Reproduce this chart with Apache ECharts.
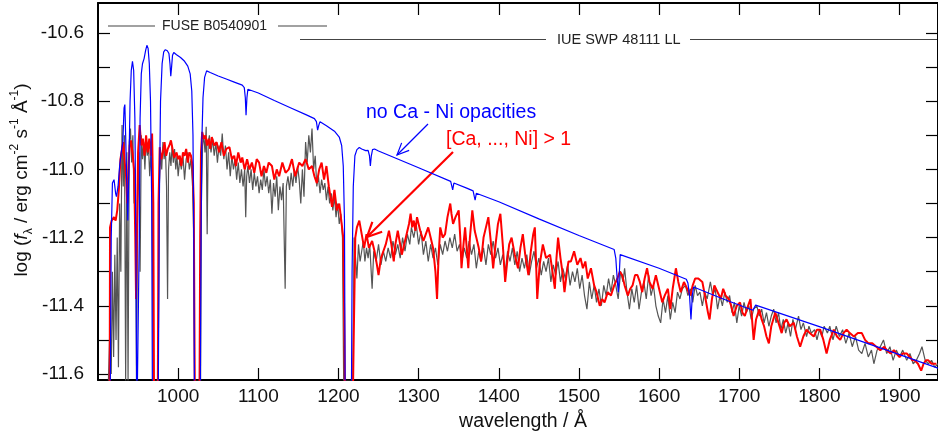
<!DOCTYPE html>
<html>
<head>
<meta charset="utf-8">
<script src="https://cdn.jsdelivr.net/npm/echarts@6/dist/echarts.min.js"></script>
<style>
html,body{margin:0;padding:0;background:#fff;}
#c{width:938px;height:437px;}
</style>
</head>
<body>
<div id="c"></div>
<script>
// ---- axis ticks ----
const xTicks = [1000,1100,1200,1300,1400,1500,1600,1700,1800,1900];
const yTicks = [-11.6,-11.5,-11.4,-11.3,-11.2,-11.1,-11.0,-10.9,-10.8,-10.7,-10.6];
const yLabels = [-11.6,-11.4,-11.2,-11.0,-10.8,-10.6];

// ---- model without Ca-Ni opacities (blue) ----
const blueModel = [[915,-11.75],[916.5,-11.2],[918,-11.04],[920,-11.03],[922,-11.07],[923,-11.08],[925,-11.05],[927,-10.99],[929,-10.95],[931,-10.92],[932.5,-10.82],[933.5,-10.81],[934.5,-10.9],[936,-11.05],[937.2,-11.15],[938.5,-11.0],[940,-10.8],[941.5,-10.71],[943,-10.683],[944.5,-10.71],[946,-10.85],[947.3,-11.2],[948.5,-11.75],[950.5,-11.75],[951.5,-11.2],[952.5,-10.85],[954,-10.72],[955.5,-10.69],[957.5,-10.675],[959.5,-10.65],[961,-10.636],[962.5,-10.645],[964,-10.69],[965.5,-10.8],[967,-11.1],[968,-11.75],[975,-11.75],[976.5,-11.1],[978,-10.8],[980,-10.69],[982,-10.655],[984,-10.649],[986.5,-10.652],[988.5,-10.66],[989.8,-10.69],[990.8,-10.727],[991.8,-10.7],[993,-10.665],[994.5,-10.657],[998,-10.664],[1003,-10.672],[1008,-10.683],[1012,-10.697],[1015,-10.72],[1017,-10.77],[1018.5,-10.9],[1019.5,-11.2],[1020.5,-11.75],[1027.5,-11.75],[1028.5,-11.2],[1029.5,-10.92],[1031,-10.79],[1033,-10.73],[1035.5,-10.711],[1040,-10.716],[1050,-10.726],[1060,-10.735],[1070,-10.744],[1080,-10.753],[1082.5,-10.76],[1083.8,-10.79],[1084.7,-10.841],[1085.8,-10.79],[1087,-10.765],[1100,-10.776],[1120,-10.798],[1140,-10.819],[1160,-10.84],[1170,-10.851],[1172.5,-10.86],[1174,-10.885],[1175.5,-10.87],[1177,-10.86],[1185,-10.872],[1195,-10.888],[1201,-10.905],[1204,-10.93],[1206,-10.99],[1207.5,-11.15],[1208.5,-11.75],[1216,-11.75],[1217,-11.3],[1218.5,-11.05],[1220.5,-10.96],[1223,-10.942],[1226,-10.936],[1229,-10.94],[1231,-10.937],[1234,-10.945],[1237,-10.944],[1238.7,-10.96],[1239.8,-10.99],[1241,-10.96],[1242.5,-10.942],[1245,-10.94],[1250,-10.946],[1300,-10.995],[1340,-11.035],[1341.5,-11.05],[1342.5,-11.06],[1344,-11.04],[1360,-11.055],[1368,-11.063],[1369.5,-11.08],[1370.5,-11.09],[1372,-11.07],[1400,-11.095],[1450,-11.145],[1500,-11.194],[1544,-11.235],[1546,-11.26],[1548,-11.33],[1549.2,-11.36],[1550.5,-11.3],[1551.5,-11.25],[1553,-11.246],[1600,-11.29],[1634,-11.322],[1636,-11.333],[1638,-11.37],[1639.8,-11.44],[1641.5,-11.37],[1643,-11.345],[1680,-11.38],[1717,-11.413],[1719,-11.415],[1720.5,-11.398],[1722,-11.397],[1800,-11.461],[1900,-11.543],[1948,-11.583]];

// ---- model with [Ca..Ni] > 1 (red) ----
const redModel = [[914.5,-11.75],[915,-11.17],[917,-11.15],[920,-11.14],[922,-11.15],[924,-11.12],[926,-11.06],[928,-10.97],[930,-10.94],[931.5,-10.92],[933,-10.97],[935,-11.02],[936.5,-11.1],[938,-11.0],[939.5,-10.93],[941,-10.915],[943,-10.95],[945,-11.0],[946.5,-11.2],[947.5,-11.38],[948.5,-11.2],[950,-10.95],[952,-10.87],[954,-10.93],[956,-10.91],[958,-10.96],[960,-10.9],[962,-10.95],[964,-10.91],[966,-10.96],[967.5,-10.895],[969,-11.1],[970,-11.75],[974.5,-11.75],[975.5,-11.1],[977,-10.935],[979,-10.97],[981,-10.95],[983,-10.92],[985,-10.96],[987,-10.94],[989,-10.93],[991,-10.915],[993,-10.94],[995,-10.965],[998,-10.95],[1000,-10.97],[1002,-10.96],[1004,-10.99],[1006,-10.95],[1008,-10.96],[1010,-10.94],[1012,-10.98],[1014,-10.95],[1016,-10.96],[1018,-10.99],[1019.5,-11.1],[1021,-11.75],[1026.5,-11.75],[1027.5,-11.2],[1028.5,-10.95],[1030,-10.89],[1032,-10.91],[1034,-10.9],[1036,-10.93],[1038,-10.91],[1040,-10.94],[1042,-10.905],[1045,-10.93],[1048,-10.92],[1051,-10.95],[1054,-10.92],[1057,-10.96],[1060,-10.94],[1064,-10.935],[1067,-10.97],[1070,-10.96],[1072,-10.99],[1075,-10.95],[1078,-10.98],[1080,-10.965],[1083,-11.0],[1086,-10.97],[1089,-11.0],[1092,-10.98],[1095,-11.01],[1098,-10.97],[1101,-10.98],[1104,-11.02],[1107,-10.99],[1110,-11.01],[1113,-10.98],[1117,-10.99],[1120,-11.03],[1123,-11.0],[1126,-11.02],[1130,-10.98],[1134,-11.01],[1138,-11.0],[1142,-10.97],[1146,-11.02],[1151,-10.98],[1155,-10.99],[1159,-10.97],[1163,-11.0],[1167,-10.99],[1170,-11.02],[1173,-11.04],[1176,-11.0],[1179,-10.98],[1182,-11.03],[1185,-10.99],[1188,-11.05],[1192,-11.11],[1195,-11.06],[1198,-11.12],[1201,-11.1],[1204,-11.16],[1206,-11.2],[1207.5,-11.5],[1208.5,-11.75],[1217.5,-11.75],[1219,-11.5],[1221,-11.2],[1223,-11.17],[1226,-11.15],[1229,-11.19],[1232,-11.23],[1235,-11.19],[1238,-11.23],[1242,-11.21],[1245,-11.24],[1248,-11.28],[1250,-11.31],[1253,-11.26],[1256,-11.24],[1259,-11.22],[1263,-11.18],[1266,-11.22],[1269,-11.27],[1271,-11.22],[1274,-11.18],[1277,-11.22],[1279,-11.25],[1282,-11.22],[1285,-11.19],[1288,-11.16],[1290,-11.13],[1292,-11.17],[1294,-11.15],[1296,-11.18],[1298,-11.14],[1302,-11.18],[1306,-11.21],[1309,-11.19],[1312,-11.17],[1315,-11.2],[1318,-11.23],[1321,-11.3],[1323,-11.38],[1325,-11.25],[1327,-11.17],[1330,-11.2],[1333,-11.19],[1336,-11.14],[1339.5,-11.1],[1341,-11.13],[1343,-11.16],[1346,-11.14],[1350,-11.12],[1352,-11.2],[1353.5,-11.29],[1356,-11.22],[1358,-11.17],[1360,-11.23],[1362,-11.29],[1364,-11.2],[1367,-11.12],[1370,-11.18],[1372,-11.2],[1375,-11.23],[1378,-11.27],[1381,-11.2],[1384,-11.17],[1387,-11.14],[1390,-11.21],[1393,-11.29],[1396,-11.22],[1399,-11.16],[1402,-11.13],[1405,-11.22],[1408,-11.33],[1411,-11.26],[1413,-11.22],[1416,-11.2],[1420,-11.25],[1424,-11.29],[1427,-11.23],[1430,-11.19],[1433,-11.25],[1437,-11.31],[1440,-11.24],[1443,-11.19],[1445,-11.17],[1446.5,-11.27],[1448,-11.38],[1451,-11.28],[1455,-11.22],[1459,-11.26],[1464,-11.25],[1467,-11.3],[1470,-11.35],[1472,-11.26],[1474,-11.2],[1477,-11.26],[1480,-11.31],[1482,-11.36],[1485,-11.3],[1487,-11.27],[1490,-11.27],[1494,-11.24],[1498,-11.28],[1502,-11.26],[1505,-11.29],[1508,-11.27],[1511,-11.32],[1515,-11.29],[1519,-11.34],[1522,-11.36],[1526,-11.4],[1529,-11.38],[1532,-11.39],[1536,-11.36],[1540,-11.37],[1544,-11.34],[1548,-11.32],[1551,-11.3],[1554,-11.31],[1557,-11.34],[1561,-11.37],[1564,-11.35],[1567,-11.34],[1570,-11.31],[1573,-11.31],[1576,-11.33],[1579,-11.36],[1582,-11.32],[1585,-11.29],[1588,-11.33],[1592,-11.35],[1596,-11.31],[1600,-11.35],[1604,-11.39],[1607,-11.37],[1611,-11.35],[1614,-11.41],[1617,-11.35],[1621,-11.29],[1624,-11.33],[1627,-11.36],[1631,-11.33],[1635,-11.35],[1639,-11.37],[1642,-11.34],[1645,-11.32],[1649,-11.32],[1654,-11.33],[1658,-11.38],[1661,-11.42],[1663,-11.44],[1666,-11.38],[1669,-11.34],[1673,-11.36],[1677,-11.38],[1680,-11.35],[1683,-11.37],[1687,-11.38],[1690,-11.4],[1693,-11.43],[1697,-11.4],[1701,-11.39],[1704,-11.42],[1707,-11.43],[1711,-11.4],[1714,-11.38],[1716,-11.44],[1718,-11.5],[1721,-11.44],[1725,-11.41],[1728,-11.44],[1731,-11.46],[1734,-11.49],[1737,-11.51],[1740,-11.46],[1745,-11.42],[1749,-11.45],[1753,-11.48],[1756,-11.45],[1759,-11.44],[1763,-11.46],[1768,-11.45],[1772,-11.49],[1776,-11.52],[1780,-11.49],[1784,-11.47],[1788,-11.48],[1793,-11.49],[1797,-11.47],[1801,-11.47],[1805,-11.5],[1809,-11.54],[1813,-11.5],[1818,-11.47],[1822,-11.49],[1826,-11.5],[1830,-11.48],[1834,-11.47],[1838,-11.48],[1843,-11.49],[1848,-11.48],[1853,-11.48],[1857,-11.5],[1861,-11.51],[1866,-11.51],[1871,-11.52],[1876,-11.53],[1881,-11.52],[1884,-11.53],[1889,-11.54],[1893,-11.53],[1896,-11.54],[1900,-11.55],[1904,-11.54],[1909,-11.54],[1913,-11.55],[1916,-11.56],[1919,-11.56],[1923,-11.57],[1927,-11.59],[1930,-11.57],[1933,-11.56],[1936,-11.56],[1940,-11.57],[1942,-11.565],[1946,-11.57]];

// ---- observation FUSE + IUE (gray) ----
const observed = [[913,-11.62],[915,-11.45],[916.5,-11.6],[918,-11.3],[919.5,-11.55],[921,-11.25],[922.5,-11.5],[924,-11.2],[925.5,-11.58],[927,-11.1],[928.5,-11.3],[930,-10.87],[931.5,-11.05],[933,-10.9],[934.5,-11.62],[936,-10.95],[937.5,-11.62],[939,-10.92],[940.5,-10.88],[942,-10.98],[943.5,-10.9],[945,-11.1],[946.5,-11.0],[948,-11.62],[949.5,-11.1],[951,-10.95],[952.5,-11.3],[954,-10.9],[955.5,-10.97],[957,-10.92],[958.5,-11.0],[960,-10.91],[961.5,-10.96],[963,-10.93],[964.5,-11.02],[966,-10.95],[967.5,-11.05],[969,-11.62],[975,-11.62],[976.5,-11.05],[978,-10.95],[979.5,-11.0],[981,-10.92],[982.5,-10.97],[984,-10.93],[985.5,-11.05],[986.8,-11.38],[988,-11.0],[989.5,-10.95],[991,-10.99],[992.5,-10.93],[994,-10.98],[995.5,-10.94],[997,-11.0],[998.5,-10.96],[1000,-11.02],[1002,-10.97],[1004,-11.0],[1006,-10.96],[1008,-11.03],[1010,-10.97],[1012,-10.95],[1014,-11.0],[1016,-10.97],[1018,-11.05],[1019.5,-11.2],[1020.5,-11.62],[1028,-11.62],[1029,-11.1],[1030.5,-10.93],[1032,-10.9],[1033.5,-10.95],[1035,-10.875],[1036.2,-11.19],[1037.5,-10.92],[1039,-10.9],[1041,-10.95],[1043,-10.91],[1045,-10.96],[1047,-10.92],[1049,-10.98],[1051,-10.93],[1053,-10.96],[1055,-10.895],[1057,-10.97],[1059,-10.93],[1061,-11.0],[1063,-10.95],[1065,-11.02],[1067,-10.96],[1069,-11.0],[1071,-10.97],[1073,-11.03],[1075,-10.98],[1077,-11.04],[1079,-11.0],[1081,-11.05],[1083,-11.0],[1084.3,-11.14],[1085.5,-11.02],[1087,-10.99],[1089,-11.04],[1091,-11.0],[1093,-11.06],[1095,-11.01],[1097,-11.05],[1099,-11.02],[1101,-11.07],[1103,-11.03],[1105,-11.06],[1107,-11.0],[1109,-11.05],[1111,-11.02],[1113,-11.07],[1115,-11.03],[1117,-11.13],[1119,-11.04],[1121,-11.08],[1123,-11.02],[1125,-11.12],[1127,-11.05],[1129,-11.09],[1131,-11.04],[1133.5,-11.35],[1135,-11.05],[1137,-11.02],[1139,-11.06],[1141,-11.01],[1143,-11.05],[1145,-11.0],[1147,-11.04],[1149,-10.99],[1151,-11.03],[1153,-11.1],[1155,-11.0],[1157,-11.08],[1159,-10.92],[1161,-10.98],[1163,-10.9],[1165,-10.95],[1167,-10.88],[1169,-11.0],[1171,-10.96],[1173,-11.05],[1175,-11.02],[1177,-11.07],[1179,-11.03],[1181,-11.06],[1183,-11.04],[1185,-11.09],[1187,-11.05],[1189,-11.1],[1191,-11.07],[1193,-11.12],[1195,-11.08],[1197,-11.14],[1199,-11.1],[1201,-11.16],[1203,-11.13],[1205,-11.2],[1206.5,-11.62],[1218,-11.62],[1219.5,-11.2],[1221,-11.25],[1223,-11.32],[1225,-11.22],[1227,-11.27],[1229,-11.24],[1231,-11.21],[1233,-11.27],[1235,-11.23],[1237,-11.26],[1239,-11.22],[1242,-11.35],[1244,-11.24],[1247,-11.27],[1250,-11.22],[1253,-11.28],[1256,-11.24],[1259,-11.27],[1262,-11.23],[1265,-11.26],[1268,-11.21],[1271,-11.25],[1274,-11.22],[1277,-11.26],[1280,-11.2],[1283,-11.24],[1286,-11.19],[1289,-11.22],[1291,-11.17],[1294,-11.2],[1297,-11.16],[1300,-11.22],[1303,-11.18],[1306,-11.25],[1309,-11.21],[1312,-11.27],[1315,-11.22],[1318,-11.26],[1321,-11.23],[1324,-11.28],[1327,-11.22],[1330,-11.25],[1333,-11.21],[1336,-11.24],[1339,-11.2],[1342,-11.23],[1345,-11.19],[1348,-11.24],[1351,-11.22],[1354,-11.27],[1357,-11.23],[1360,-11.26],[1363,-11.21],[1366,-11.25],[1369,-11.22],[1372,-11.29],[1375,-11.24],[1378,-11.27],[1381,-11.23],[1384,-11.28],[1387,-11.22],[1390,-11.25],[1393,-11.21],[1396,-11.26],[1399,-11.23],[1402,-11.28],[1405,-11.25],[1408,-11.3],[1411,-11.24],[1414,-11.27],[1417,-11.23],[1420,-11.28],[1423,-11.24],[1426,-11.3],[1429,-11.26],[1432,-11.29],[1435,-11.25],[1438,-11.31],[1441,-11.27],[1444,-11.24],[1447,-11.29],[1450,-11.26],[1453,-11.31],[1456,-11.27],[1459,-11.3],[1462,-11.26],[1465,-11.33],[1468,-11.28],[1471,-11.31],[1474,-11.27],[1477,-11.33],[1480,-11.29],[1483,-11.32],[1486,-11.28],[1489,-11.34],[1492,-11.3],[1495,-11.33],[1498,-11.29],[1501,-11.35],[1504,-11.31],[1507,-11.37],[1510,-11.41],[1513,-11.33],[1516,-11.38],[1519,-11.34],[1522,-11.39],[1525,-11.35],[1528,-11.4],[1531,-11.34],[1534,-11.37],[1537,-11.32],[1540,-11.36],[1543,-11.31],[1546,-11.34],[1549,-11.38],[1552,-11.3],[1555,-11.33],[1557,-11.29],[1560,-11.36],[1563,-11.41],[1566,-11.35],[1569,-11.39],[1572,-11.34],[1575,-11.41],[1578,-11.36],[1581,-11.33],[1584,-11.38],[1587,-11.31],[1590,-11.37],[1593,-11.34],[1596,-11.4],[1599,-11.43],[1602,-11.45],[1605,-11.38],[1608,-11.42],[1611,-11.37],[1614,-11.44],[1617,-11.39],[1620,-11.42],[1623,-11.36],[1626,-11.38],[1629,-11.35],[1633,-11.34],[1636,-11.37],[1639,-11.35],[1642,-11.39],[1645,-11.34],[1648,-11.37],[1651,-11.36],[1654,-11.4],[1657,-11.36],[1660,-11.38],[1664,-11.33],[1667,-11.37],[1670,-11.35],[1673,-11.41],[1676,-11.37],[1679,-11.4],[1682,-11.36],[1685,-11.39],[1688,-11.37],[1691,-11.42],[1694,-11.39],[1697,-11.45],[1700,-11.4],[1703,-11.43],[1706,-11.39],[1709,-11.42],[1712,-11.4],[1715,-11.44],[1718,-11.41],[1722,-11.4],[1725,-11.43],[1728,-11.41],[1731,-11.45],[1734,-11.42],[1737,-11.46],[1740,-11.43],[1743,-11.41],[1746,-11.45],[1749,-11.42],[1752,-11.47],[1755,-11.44],[1758,-11.48],[1761,-11.45],[1764,-11.49],[1767,-11.44],[1770,-11.47],[1774,-11.43],[1777,-11.47],[1780,-11.45],[1784,-11.49],[1787,-11.46],[1790,-11.48],[1794,-11.47],[1797,-11.5],[1800,-11.47],[1803,-11.49],[1806,-11.46],[1810,-11.48],[1813,-11.46],[1817,-11.5],[1821,-11.46],[1825,-11.49],[1829,-11.47],[1833,-11.51],[1837,-11.48],[1841,-11.52],[1845,-11.49],[1849,-11.53],[1853,-11.54],[1857,-11.51],[1861,-11.55],[1865,-11.53],[1868,-11.57],[1872,-11.53],[1876,-11.52],[1880,-11.5],[1884,-11.54],[1888,-11.52],[1892,-11.56],[1896,-11.53],[1900,-11.55],[1904,-11.53],[1909,-11.56],[1913,-11.54],[1917,-11.57],[1921,-11.56],[1925,-11.54],[1928,-11.52],[1932,-11.56],[1936,-11.57],[1940,-11.56],[1944,-11.58],[1948,-11.57]];

const FONT = '"Liberation Sans", Arial, Helvetica, sans-serif';
const chart = echarts.init(document.getElementById('c'), null, {renderer:'canvas'});

const axisLine = {show:true, lineStyle:{color:'#000', width:2}};
const tickStyle = {color:'#000', width:1.2};

function arrowHead(x1,y1,x2,y2,len,ang){
  const a = Math.atan2(y1-y2, x1-x2);
  return [[x2+len*Math.cos(a+ang), y2+len*Math.sin(a+ang)],[x2,y2],[x2+len*Math.cos(a-ang), y2+len*Math.sin(a-ang)]];
}

const graphics = [
  // FUSE range
  {type:'line', shape:{x1:108,y1:26,x2:155,y2:26}, style:{stroke:'#444', lineWidth:1.2}},
  {type:'text', x:162, y:26, style:{text:'FUSE B0540901', font:'14px '+FONT, fill:'#222', verticalAlign:'middle'}},
  {type:'line', shape:{x1:278,y1:26,x2:327,y2:26}, style:{stroke:'#444', lineWidth:1.2}},
  // IUE range
  {type:'line', shape:{x1:300,y1:39.5,x2:546,y2:39.5}, style:{stroke:'#444', lineWidth:1.2}},
  {type:'text', x:557, y:40, style:{text:'IUE SWP 48111 LL', font:'14.5px '+FONT, fill:'#222', verticalAlign:'middle'}},
  {type:'line', shape:{x1:690,y1:39.5,x2:945,y2:39.5}, style:{stroke:'#444', lineWidth:1.2}},
  // labels
  {type:'text', x:366, y:113, style:{text:'no Ca - Ni opacities', font:'19.5px '+FONT, fill:'#0000ff', verticalAlign:'middle'}},
  {type:'text', x:446, y:140, style:{text:'[Ca, ..., Ni] > 1', font:'19.5px '+FONT, fill:'#ff0000', verticalAlign:'middle'}},
  // blue arrow
  {type:'line', shape:{x1:428,y1:124,x2:397,y2:155}, style:{stroke:'#0000ff', lineWidth:1.2}},
  {type:'polyline', shape:{points:arrowHead(428,124,397,155,13,0.42)}, style:{stroke:'#0000ff', lineWidth:1.2, fill:null}},
  // red arrow
  {type:'line', shape:{x1:453,y1:152,x2:367,y2:237}, style:{stroke:'#ff0000', lineWidth:2.2}},
  {type:'polyline', shape:{points:arrowHead(453,152,367,237,16,0.45)}, style:{stroke:'#ff0000', lineWidth:2.2, fill:null}},
  // y axis title
  {type:'text', x:22, y:180, rotation:Math.PI/2, style:{
    text:'{n|log (}{i|f}{sb|λ}{n| / erg cm}{sp|-2}{n| s}{sp|-1}{n| Å}{sp|-1}{n|)}',
    align:'center', verticalAlign:'middle', fill:'#111',
    rich:{
      n:{font:'19px '+FONT, fill:'#111', lineHeight:26, verticalAlign:'middle'},
      i:{font:'italic 19px '+FONT, fill:'#111', lineHeight:26, verticalAlign:'middle'},
      sb:{font:'12px '+FONT, fill:'#111', lineHeight:12, verticalAlign:'bottom'},
      sp:{font:'12px '+FONT, fill:'#111', lineHeight:12, verticalAlign:'top'}
    }}},
  // x axis title
  {type:'text', x:523, y:422, style:{text:'wavelength / Å', font:'19.5px '+FONT, fill:'#111', align:'center', verticalAlign:'middle'}}
];

const option = {
  animation:false,
  backgroundColor:'#fff',
  grid:{left:98, right:-4, top:3, bottom:57, containLabel:false},
  xAxis:[
    {type:'value', min:900, max:1948, position:'bottom', axisLine:axisLine,
     axisTick:{show:true, inside:true, length:12, customValues:xTicks, lineStyle:tickStyle},
     axisLabel:{show:true, customValues:xTicks, color:'#111', fontSize:19, fontFamily:FONT, margin:7,
       formatter:function(v){return String(Math.round(v));}},
     splitLine:{show:false}},
    {type:'value', min:900, max:1948, position:'top', axisLine:axisLine,
     axisTick:{show:true, inside:true, length:12, customValues:xTicks, lineStyle:tickStyle},
     axisLabel:{show:false}, splitLine:{show:false}}
  ],
  yAxis:[
    {type:'value', min:-11.6176, max:-10.512, position:'left', axisLine:axisLine,
     axisTick:{show:true, inside:true, length:12, customValues:yTicks, lineStyle:tickStyle},
     axisLabel:{show:true, customValues:yLabels, color:'#111', fontSize:19, fontFamily:FONT, margin:14,
       formatter:function(v){return v.toFixed(1);}},
     splitLine:{show:false}},
    {type:'value', min:-11.6176, max:-10.512, position:'right', axisLine:axisLine,
     axisTick:{show:true, inside:true, length:12, customValues:yTicks, lineStyle:tickStyle},
     axisLabel:{show:false}, splitLine:{show:false}}
  ],
  series:[
    {name:'observed', type:'line', data:observed, showSymbol:false, symbol:'none', clip:true,
     lineStyle:{color:'#555555', width:1.2}, z:2},
    {name:'red', type:'line', data:redModel, showSymbol:false, symbol:'none', clip:true,
     lineStyle:{color:'#ff0000', width:2}, z:3},
    {name:'blue', type:'line', data:blueModel, showSymbol:false, symbol:'none', clip:true,
     lineStyle:{color:'#0000ff', width:1.2}, z:4}
  ],
  graphic:graphics
};
chart.setOption(option);
</script>
</body>
</html>
